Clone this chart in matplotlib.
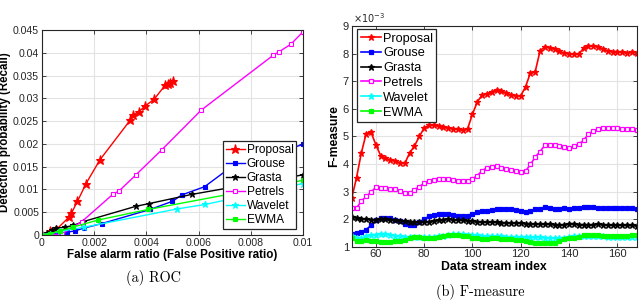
import numpy as np
import matplotlib
matplotlib.use("Agg")
import matplotlib.pyplot as plt

plt.rcParams['font.family'] = ['Liberation Sans', 'DejaVu Sans']

# ---- ROC data (left panel) ----
prop_fa = [0, 0.0003, 0.00055, 0.00105, 0.00113, 0.00136, 0.00169, 0.00222, 0.00338,
           0.00348, 0.0037, 0.00395, 0.0043, 0.00472, 0.00481, 0.00491, 0.00501]
prop_dp = [0.0001, 0.0008, 0.0012, 0.004, 0.0048, 0.0074, 0.0113, 0.0165, 0.0252,
           0.0263, 0.027, 0.0283, 0.0298, 0.0329, 0.0331, 0.0334, 0.0339]
grou_fa = [0, 0.0005, 0.00095, 0.00126, 0.0016, 0.00229, 0.00414, 0.005, 0.00536, 0.00623, 0.0071, 0.01]
grou_dp = [0, 0.0002, 0.0006, 0.0009, 0.0015, 0.0025, 0.0056, 0.0074, 0.0088, 0.0106, 0.0143, 0.0199]
gras_fa = [0, 0.0002, 0.00037, 0.00054, 0.00088, 0.0012, 0.00156, 0.0036, 0.00411, 0.00573, 0.01]
gras_dp = [0, 0.0004, 0.0011, 0.0015, 0.0017, 0.0021, 0.0029, 0.0063, 0.0069, 0.0089, 0.0132]
petr_fa = [0, 0.00015, 0.0003, 0.00075, 0.00152, 0.00271, 0.00296, 0.0036, 0.00459,
           0.0061, 0.00887, 0.00908, 0.00954, 0.01]
petr_dp = [0, 0.0, 0.0001, 0.0002, 0.0029, 0.0089, 0.0097, 0.0132, 0.0187,
           0.0274, 0.0395, 0.0402, 0.0419, 0.0446]
wave_fa = [0, 0.0003, 0.0007, 0.00161, 0.00516, 0.00625, 0.01]
wave_dp = [0, 0.0003, 0.0008, 0.0017, 0.0057, 0.0067, 0.0113]
ewma_fa = [0, 0.0003, 0.0007, 0.00117, 0.00216, 0.00407, 0.01]
ewma_dp = [0, 0.0003, 0.0009, 0.0017, 0.0033, 0.0056, 0.0120]

# ---- F-measure data (right panel), values in units of 1e-3 ----
idx = list(range(50, 169, 2))
f_prop = [2.75, 3.5, 4.4, 5.1, 5.15, 4.7, 4.3, 4.2, 4.15, 4.1, 4.05, 4.02, 4.4, 4.65, 5.0,
          5.3, 5.4, 5.4, 5.37, 5.33, 5.3, 5.28, 5.25, 5.22, 5.28, 5.8, 6.25, 6.5, 6.55, 6.62,
          6.67, 6.64, 6.58, 6.5, 6.47, 6.47, 6.8, 7.3, 7.35, 8.1, 8.25, 8.22, 8.15, 8.08, 8.02,
          8.0, 7.98, 7.97, 8.2, 8.27, 8.27, 8.25, 8.17, 8.1, 8.07, 8.07, 8.04, 8.02, 8.05, 8.03]
f_grou = [1.46, 1.48, 1.53, 1.62, 1.77, 1.95, 2.03, 2.05, 2.03, 1.98, 1.93, 1.84, 1.78, 1.8, 1.88,
          2.0, 2.1, 2.16, 2.18, 2.18, 2.17, 2.14, 2.11, 2.1, 2.13, 2.18, 2.25, 2.28, 2.3, 2.33,
          2.36, 2.38, 2.37, 2.35, 2.32, 2.29, 2.27, 2.31, 2.35, 2.38, 2.44, 2.42, 2.37, 2.38, 2.39,
          2.38, 2.4, 2.41, 2.43, 2.45, 2.43, 2.4, 2.39, 2.39, 2.39, 2.39, 2.39, 2.39, 2.39, 2.38]
f_gras = [2.06, 2.05, 2.02, 2.0, 1.98, 1.98, 2.02, 2.0, 1.97, 1.95, 1.94, 1.92, 1.91, 1.9, 1.89,
          1.9, 1.9, 1.92, 1.95, 1.98, 1.99, 1.98, 1.97, 1.95, 1.93, 1.92, 1.91, 1.9, 1.89, 1.89,
          1.88, 1.87, 1.87, 1.86, 1.85, 1.85, 1.84, 1.83, 1.83, 1.82, 1.82, 1.81, 1.8, 1.79, 1.8,
          1.84, 1.83, 1.8, 1.8, 1.79, 1.8, 1.81, 1.8, 1.79, 1.78, 1.78, 1.78, 1.77, 1.77, 1.76]
f_petr = [2.4, 2.4, 2.65, 2.82, 2.98, 3.15, 3.14, 3.12, 3.1, 3.08, 3.03, 2.95, 2.95, 3.06, 3.18,
          3.3, 3.38, 3.43, 3.47, 3.47, 3.44, 3.42, 3.39, 3.37, 3.38, 3.46, 3.58, 3.75, 3.87, 3.9,
          3.91, 3.87, 3.83, 3.78, 3.74, 3.72, 3.74, 3.98, 4.25, 4.45, 4.68, 4.68, 4.67, 4.65, 4.6,
          4.57, 4.65, 4.72, 4.85, 5.08, 5.2, 5.27, 5.3, 5.32, 5.32, 5.3, 5.28, 5.26, 5.25, 5.24]
f_wave = [1.39, 1.33, 1.32, 1.37, 1.42, 1.44, 1.46, 1.46, 1.43, 1.4, 1.37, 1.36, 1.35, 1.34, 1.34,
          1.34, 1.35, 1.36, 1.37, 1.4, 1.44, 1.46, 1.46, 1.45, 1.44, 1.43, 1.41, 1.39, 1.38, 1.37,
          1.37, 1.37, 1.36, 1.36, 1.35, 1.35, 1.35, 1.34, 1.34, 1.34, 1.33, 1.33, 1.31, 1.3, 1.33,
          1.36, 1.37, 1.37, 1.38, 1.39, 1.39, 1.38, 1.37, 1.36, 1.36, 1.35, 1.35, 1.34, 1.34, 1.34]
f_ewma = [1.3, 1.19, 1.2, 1.24, 1.22, 1.21, 1.18, 1.17, 1.18, 1.2, 1.22, 1.23, 1.3, 1.34, 1.34,
          1.32, 1.3, 1.32, 1.34, 1.38, 1.42, 1.43, 1.42, 1.4, 1.37, 1.33, 1.3, 1.28, 1.29, 1.3,
          1.3, 1.28, 1.28, 1.27, 1.25, 1.24, 1.21, 1.18, 1.15, 1.13, 1.12, 1.12, 1.12, 1.2, 1.29,
          1.31, 1.33, 1.35, 1.42, 1.44, 1.42, 1.41, 1.4, 1.38, 1.37, 1.38, 1.39, 1.4, 1.41, 1.42]

names = ['Proposal', 'Grouse', 'Grasta', 'Petrels', 'Wavelet', 'EWMA']
colors = ['#ff0000', '#0000ff', '#000000', '#ff00ff', '#00ffff', '#00ff00']
markers = ['*', 's', '*', 's', '*', 's']
facecols = ['#ff0000', '#0000ff', '#000000', 'white', '#00ffff', '#00ff00']

roc = [(prop_fa, prop_dp), (grou_fa, grou_dp), (gras_fa, gras_dp),
       (petr_fa, petr_dp), (wave_fa, wave_dp), (ewma_fa, ewma_dp)]
fm = [f_prop, f_grou, f_gras, f_petr, f_wave, f_ewma]

fig = plt.figure(figsize=(6.4, 3.02), dpi=100)
ax1 = fig.add_axes([0.0656, 0.2219, 0.4078, 0.6788])
ax2 = fig.add_axes([0.5495, 0.1831, 0.4453, 0.7308])

def style(ax, size):
    ax.grid(True, color='#e3e3e3', linewidth=0.8)
    ax.set_axisbelow(True)
    ax.tick_params(direction='in', top=True, right=True, length=3, width=0.6,
                   labelsize=size, colors='#262626', pad=2)
    for s in ax.spines.values():
        s.set_color('#262626')
        s.set_linewidth(0.8)

# left: ROC
for (fa, dp), n, c, m, fc in zip(roc, names, colors, markers, facecols):
    ms = 5 if m == '*' else 3
    if n == 'Proposal':
        ms = 6.5
    ax1.plot(fa, dp, color=c, marker=m, markersize=ms, markerfacecolor=fc,
             markeredgecolor=c, markeredgewidth=0.8, linewidth=1.0, label=n)
style(ax1, 7.6)
ax1.set_xlim(0, 0.01)
ax1.set_ylim(0, 0.045)
ax1.set_xticks([0, 0.002, 0.004, 0.006, 0.008, 0.01])
ax1.set_xticklabels(['0', '0.002', '0.004', '0.006', '0.008', '0.01'])
ax1.set_yticks(np.arange(0, 0.0451, 0.005))
ax1.set_yticklabels(['0', '0.005', '0.01', '0.015', '0.02', '0.025', '0.03', '0.035', '0.04', '0.045'])
ax1.set_xlabel('False alarm ratio (False Positive ratio)', fontsize=8.4, fontweight='bold', labelpad=1)
ax1.set_ylabel('Detection probability (Recall)', fontsize=8.3, fontweight='bold')
ax1.yaxis.set_label_coords(-0.118, 0.5)
leg1 = ax1.legend(loc='lower right', bbox_to_anchor=(0.975, 0.027), fontsize=8.6,
                  handlelength=1.6, handletextpad=0.15, labelspacing=0.18, borderpad=0.25,
                  borderaxespad=0, fancybox=False, framealpha=1)
leg1.get_frame().set_edgecolor('#262626')
leg1.get_frame().set_linewidth(0.9)

# right: F-measure
for y, n, c, m, fc in zip(fm, names, colors, markers, facecols):
    ms = 4.5 if m == '*' else 3.2
    ax2.plot(idx, y, color=c, marker=m, markersize=ms, markerfacecolor=fc,
             markeredgecolor=c, markeredgewidth=0.9, linewidth=1.2, label=n)
style(ax2, 8)
ax2.set_xlim(50, 168)
ax2.set_ylim(1, 9)
ax2.set_xticks([60, 80, 100, 120, 140, 160])
ax2.set_yticks(range(1, 10))
ax2.text(0.005, 1.005, r'$\times10^{-3}$', transform=ax2.transAxes, fontsize=7,
         color='#262626', va='bottom', ha='left')
ax2.set_xlabel('Data stream index', fontsize=8.8, fontweight='bold', labelpad=1)
ax2.set_ylabel('F-measure', fontsize=8.8, fontweight='bold', labelpad=2)
leg2 = ax2.legend(loc='upper left', bbox_to_anchor=(0.02, 0.985), fontsize=9.2,
                  handlelength=1.6, handletextpad=0.15, labelspacing=0.22, borderpad=0.25,
                  borderaxespad=0, fancybox=False, framealpha=1)
leg2.get_frame().set_edgecolor('#262626')
leg2.get_frame().set_linewidth(0.9)

# captions
fig.text(154 / 640, 1 - 278 / 302, '(a) ROC', family='cmr10', fontsize=10.3, ha='center', va='center')
fig.text(480 / 640, 1 - 292 / 302, '(b) F-measure', family='cmr10', fontsize=10.3, ha='center', va='center')

fig.savefig('out.png', dpi=100)
